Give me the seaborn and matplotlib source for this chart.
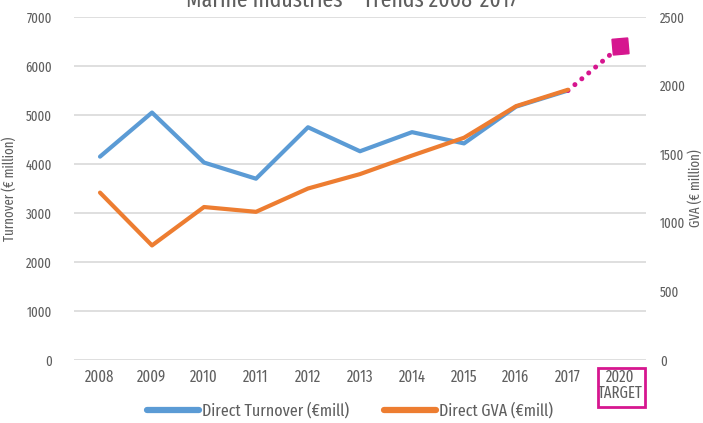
import numpy as np
import pandas as pd
import seaborn as sns
import matplotlib.pyplot as plt
from matplotlib.patches import Rectangle

# values
years = ["2008", "2009", "2010", "2011", "2012", "2013", "2014", "2015", "2016", "2017"]
target_label = "2020\nTARGET"
turnover = [4150, 5050, 4030, 3700, 4750, 4260, 4650, 4420, 5170, 5500]
gva = [1220, 835, 1115, 1080, 1250, 1355, 1490, 1620, 1850, 1970]
turnover_target = 6400

BLUE = "#5B9BD5"
ORANGE = "#ED7D31"
MAGENTA = "#D6168F"
GREY = "#5F5F5F"

sns.set_theme(style="white")
plt.rcParams["font.family"] = ["Fira Sans Extra Condensed", "DejaVu Sans"]

labels = years + [target_label]
df = pd.DataFrame({"x": np.arange(len(years)), "turnover": turnover, "gva": gva})
tgt = pd.DataFrame({"x": [len(years) - 1, len(years)],
                    "val": [turnover[-1], turnover_target]})

fig = plt.figure(figsize=(7.03, 4.23), dpi=100)
ax = fig.add_axes([74 / 703, 63 / 423, 572 / 703, 343 / 423])
ax2 = ax.twinx()

sns.lineplot(data=df, x="x", y="turnover", ax=ax, color=BLUE, lw=3,
             label="Direct Turnover (€mill)", legend=False)
sns.lineplot(data=df, x="x", y="gva", ax=ax2, color=ORANGE, lw=3,
             label="Direct GVA (€mill)", legend=False)
# dotted path to the 2020 target
sns.lineplot(data=tgt, x="x", y="val", ax=ax, color=MAGENTA, lw=3.6,
             linestyle=(0, (0.01, 1.8)), dash_capstyle="round", legend=False)
ax.plot(tgt["x"].iloc[-1], tgt["val"].iloc[-1], marker=(4, 0, 50), ms=16,
        color=MAGENTA, ls="none", zorder=5)

ax.set_ylim(0, 7000)
ax2.set_ylim(0, 2500)
ax.set_yticks(range(0, 7001, 1000))
ax2.set_yticks(range(0, 2501, 500))
ax.set_xlim(-0.5, len(labels) - 0.5)
ax.set_xticks(range(len(labels)))
ax.set_xticklabels(labels)
ax.yaxis.grid(True, color="#D9D9D9", lw=1.2)
ax.set_axisbelow(True)

for a in (ax, ax2):
    for s in a.spines.values():
        s.set_visible(False)
    a.tick_params(axis="y", length=0, labelsize=10, labelcolor=GREY)
ax.tick_params(axis="y", pad=16)
ax2.tick_params(axis="y", pad=10)
ax.tick_params(axis="x", length=0, labelsize=11.5, labelcolor=GREY, pad=7)
for t in ax.get_xticklabels()[-1:]:
    t.set_linespacing(0.95)

ax.set_xlabel("")
ax.set_ylabel("Turnover (€ million)", color=GREY, fontsize=10, labelpad=6)
ax2.set_ylabel("GVA (€ million)", color=GREY, fontsize=10, labelpad=2)

# magenta box round the target label
fig.patches.append(Rectangle((598 / 703, 1 - 407 / 423), 47 / 703, 39 / 423,
                             transform=fig.transFigure, fill=False,
                             edgecolor=MAGENTA, lw=2))

fig.text(0.5, 1 - 7 / 423, "Marine Industries \u2013 Trends 2008-2017",
         ha="center", va="baseline", fontsize=17, color=GREY)

h1, l1 = ax.get_legend_handles_labels()
h2, l2 = ax2.get_legend_handles_labels()
fig.legend(h1[:1] + h2, l1[:1] + l2, loc="center",
           bbox_to_anchor=(350 / 703, 1 - 411 / 423),
           ncol=2, frameon=False, fontsize=12.5, labelcolor=GREY, handlelength=3.0,
           handletextpad=0.15, columnspacing=2.0)
for line in fig.legends[0].get_lines():
    line.set_linewidth(4.5)

fig.savefig("out.png", dpi=100)
